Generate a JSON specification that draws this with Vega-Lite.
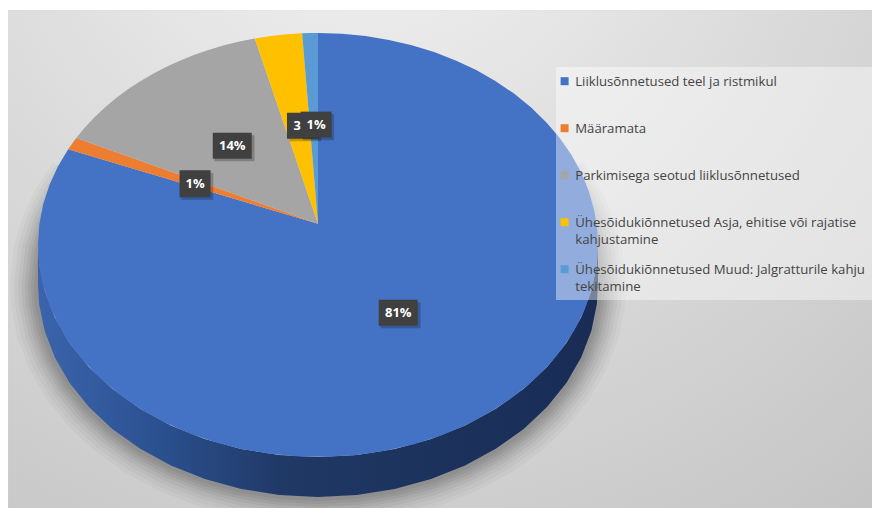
{
  "$schema": "https://vega.github.io/schema/vega-lite/v6.json",
  "width": 872,
  "height": 508,
  "padding": 0,
  "autosize": "none",
  "background": "white",
  "config": {"view": {"stroke": null}, "font": "Open Sans", "style": {"guide-label": {"lineHeight": 17}}},
  "datasets": {
    "slices": [
      {"label": "Liiklusõnnetused teel ja ristmikul", "share": 81,
       "along": [-1,0,1.5,3,4.5,6,7.5,9,10.5,12,13.5,15,16.5,18,19.5,21,22.5,24,25.5,27,28.5,30,31.5,33,34.5,36,37.5,39,40.5,42,43.5,45,46.5,48,49.5,51,52.5,54,55.5,57,58.5,60,61.5,63,64.5,66,67.5,69,70.5,72,73.5,75,76.5,78,79.5,81]},
      {"label": "Määramata", "share": 1, "along": [-1,0,0.5,1]},
      {"label": "Parkimisega seotud liiklusõnnetused", "share": 14,
       "along": [-1,0,1,2,3,4,5,6,7,8,9,10,11,12,13,14]},
      {"label": "Ühesõidukiõnnetused Asja, ehitise või rajatise kahjustamine", "share": 3, "along": [-1,0,1,2,3]},
      {"label": "Ühesõidukiõnnetused Muud: Jalgratturile kahju tekitamine", "share": 1, "along": [-1,0,0.5,1]}
    ],
    "rim": [
      {"pct": [18,20,22,24,26.6,28,30,32,34,36,38,40,42,44,46,48,50,52,54,56,58,60,62,64,66,68,70,72,73.4,76,78,80,82]}
    ]
  },
  "layer": [
    {
      "description": "panel background",
      "data": {"values": [{"panel": 1}]},
      "mark": {"type": "rect", "color": {"gradient": "radial", "x1": 0.42, "y1": 0.03, "r1": 0, "x2": 0.42, "y2": 0.03, "r2": 1.05,
        "stops": [{"offset": 0, "color": "#f4f4f4"}, {"offset": 0.45, "color": "#dcdcdc"}, {"offset": 1, "color": "#c0c0c0"}]}},
      "encoding": {
        "x": {"datum": -1.107, "type": "quantitative", "axis": null, "scale": {"domain": [-1, 1], "range": [38, 598], "nice": false, "zero": false}},
        "x2": {"datum": 1.98},
        "y": {"datum": 1.108, "type": "quantitative", "axis": null, "scale": {"domain": [-1, 1], "range": [457, 33], "nice": false, "zero": false}},
        "y2": {"datum": -1.241}
      }
    },
    {
      "description": "soft cast shadow under the pie edge",
      "data": {"name": "rim"},
      "transform": [
        {"flatten": ["pct"]},
        {"calculate": "2*PI*datum.pct/100", "as": "p"},
        {"calculate": "sin(datum.p)*sqrt(1-0.01)/(1+0.1*cos(datum.p))", "as": "x"},
        {"calculate": "(cos(datum.p)+0.1)/(1+0.1*cos(datum.p))-0.189", "as": "y"}
      ],
      "layer": [
        {"mark": {"type": "line", "stroke": "#333333", "strokeOpacity": 0.035, "strokeWidth": 56, "strokeJoin": "round"}},
        {"mark": {"type": "line", "stroke": "#333333", "strokeOpacity": 0.04, "strokeWidth": 48, "strokeJoin": "round"}},
        {"mark": {"type": "line", "stroke": "#333333", "strokeOpacity": 0.05, "strokeWidth": 40, "strokeJoin": "round"}},
        {"mark": {"type": "line", "stroke": "#333333", "strokeOpacity": 0.06, "strokeWidth": 33, "strokeJoin": "round"}},
        {"mark": {"type": "line", "stroke": "#333333", "strokeOpacity": 0.07, "strokeWidth": 26, "strokeJoin": "round"}},
        {"mark": {"type": "line", "stroke": "#333333", "strokeOpacity": 0.08, "strokeWidth": 20, "strokeJoin": "round"}},
        {"mark": {"type": "line", "stroke": "#333333", "strokeOpacity": 0.08, "strokeWidth": 14, "strokeJoin": "round"}},
        {"mark": {"type": "line", "stroke": "#333333", "strokeOpacity": 0.08, "strokeWidth": 8, "strokeJoin": "round"}}
      ],
      "encoding": {
        "x": {"field": "x", "type": "quantitative"},
        "y": {"field": "y", "type": "quantitative"},
        "order": {"field": "pct", "type": "quantitative"}
      }
    },
    {
      "description": "pie side wall",
      "data": {"name": "rim"},
      "transform": [
        {"flatten": ["pct"]},
        {"filter": "datum.pct>=26.6 && datum.pct<=73.4"},
        {"calculate": "2*PI*datum.pct/100", "as": "p"},
        {"calculate": "sin(datum.p)*sqrt(1-0.01)/(1+0.1*cos(datum.p))", "as": "x"},
        {"calculate": "(cos(datum.p)+0.1)/(1+0.1*cos(datum.p))", "as": "y"},
        {"calculate": "datum.y-0.189", "as": "yb"}
      ],
      "mark": {"type": "area", "color": {"gradient": "linear", "x1": 0, "y1": 0, "x2": 1, "y2": 0,
        "stops": [{"offset": 0, "color": "#3b64ad"}, {"offset": 0.2, "color": "#2c5292"}, {"offset": 0.45, "color": "#1f3864"}, {"offset": 1, "color": "#182c55"}]}},
      "encoding": {
        "x": {"field": "x", "type": "quantitative"},
        "y": {"field": "y", "type": "quantitative"},
        "y2": {"field": "yb"}
      }
    },
    {
      "description": "pie top face, one polygon for each slice",
      "data": {"name": "slices"},
      "transform": [
        {"stack": "share", "as": ["start", "end"]},
        {"flatten": ["along"]},
        {"calculate": "2*PI*(datum.start+datum.along)/100", "as": "p"},
        {"calculate": "datum.along<0 ? 0 : sin(datum.p)*sqrt(1-0.01)/(1+0.1*cos(datum.p))", "as": "x"},
        {"calculate": "datum.along<0 ? 0.1 : (cos(datum.p)+0.1)/(1+0.1*cos(datum.p))", "as": "y"}
      ],
      "mark": {"type": "line", "strokeWidth": 0, "fillOpacity": 1},
      "encoding": {
        "x": {"field": "x", "type": "quantitative"},
        "y": {"field": "y", "type": "quantitative"},
        "order": {"field": "along", "type": "quantitative"},
        "fill": {
          "field": "label",
          "type": "nominal",
          "scale": {
            "domain": ["Liiklusõnnetused teel ja ristmikul", "Määramata", "Parkimisega seotud liiklusõnnetused", "Ühesõidukiõnnetused Asja, ehitise või rajatise kahjustamine", "Ühesõidukiõnnetused Muud: Jalgratturile kahju tekitamine"],
            "range": ["#4472c4", "#ed7d31", "#a5a5a5", "#ffc000", "#5b9bd5"]
          },
          "legend": {
            "title": null,
            "orient": "none",
            "legendX": 558,
            "legendY": 79,
            "padding": 0,
            "gridAlign": "all",
            "rowPadding": 16,
            "symbolType": "M-1,-2.1 H1 V-0.1 H-1 Z",
            "symbolSize": 64,
            "symbolStrokeWidth": 0,
            "symbolOpacity": 1,
            "labelBaseline": "alphabetic",
            "labelFont": "Open Sans",
            "labelFontSize": 13.2,
            "labelColor": "#444444",
            "labelLimit": 320,
            "labelOffset": 4,
            "labelExpr": "split(replace(replace(datum.label,' kahjustamine','|kahjustamine'),' tekitamine','|tekitamine'),'|')"
          }
        }
      }
    },
    {
      "description": "translucent panel behind the legend",
      "data": {"values": [{"panel": 2}]},
      "mark": {"type": "rect", "color": "#ffffff", "opacity": 0.42},
      "encoding": {
        "x": {"datum": 0.85, "type": "quantitative"},
        "x2": {"datum": 1.98},
        "y": {"datum": 0.84, "type": "quantitative"},
        "y2": {"datum": -0.259}
      }
    },
    {
      "description": "value labels",
      "data": {"name": "slices"},
      "transform": [
        {"stack": "share", "as": ["start", "end"]},
        {"calculate": "2*PI*(datum.start+datum.share/2)/100", "as": "p"},
        {"calculate": "sin(datum.p)*sqrt(1-0.01)/(1+0.1*cos(datum.p))", "as": "ex"},
        {"calculate": "(cos(datum.p)+0.1)/(1+0.1*cos(datum.p))", "as": "ey"},
        {"calculate": "datum.share>50 ? 0.47 : (datum.start>=82 ? 0.52 : 0.5)", "as": "r"},
        {"calculate": "datum.r*datum.ex + (datum.share==3 ? 0.02 : (datum.start>=99 ? 0.008 : 0))", "as": "lx"},
        {"calculate": "0.1+datum.r*(datum.ey-0.1)", "as": "ly"},
        {"calculate": "datum.lx+0.008", "as": "sx"},
        {"calculate": "datum.ly-0.012", "as": "sy"},
        {"calculate": "datum.share+'%'", "as": "txt"}
      ],
      "layer": [
        {"transform": [{"filter": "datum.start<96 && datum.share!=1"}],
         "layer": [
          {"mark": {"type": "rect", "width": 40, "height": 26, "color": "#000000", "opacity": 0.22},
           "encoding": {"x": {"field": "sx", "type": "quantitative"}, "y": {"field": "sy", "type": "quantitative"}}},
          {"mark": {"type": "rect", "width": 39, "height": 26, "color": "#404040"},
           "encoding": {"x": {"field": "lx", "type": "quantitative"}, "y": {"field": "ly", "type": "quantitative"}}},
          {"mark": {"type": "text", "font": "Open Sans", "fontWeight": "bold", "fontSize": 13, "color": "#ffffff"},
           "encoding": {"x": {"field": "lx", "type": "quantitative"}, "y": {"field": "ly", "type": "quantitative"}, "text": {"field": "txt"}}}
         ]},
        {"transform": [{"filter": "datum.start<96 && datum.share==1"}],
         "layer": [
          {"mark": {"type": "rect", "width": 32, "height": 27, "color": "#000000", "opacity": 0.22},
           "encoding": {"x": {"field": "sx", "type": "quantitative"}, "y": {"field": "sy", "type": "quantitative"}}},
          {"mark": {"type": "rect", "width": 31, "height": 27, "color": "#404040"},
           "encoding": {"x": {"field": "lx", "type": "quantitative"}, "y": {"field": "ly", "type": "quantitative"}}},
          {"mark": {"type": "text", "font": "Open Sans", "fontWeight": "bold", "fontSize": 13, "color": "#ffffff"},
           "encoding": {"x": {"field": "lx", "type": "quantitative"}, "y": {"field": "ly", "type": "quantitative"}, "text": {"field": "txt"}}}
         ]},
        {"transform": [{"filter": "datum.share==3"}],
         "layer": [
          {"mark": {"type": "rect", "width": 32, "height": 26, "color": "#000000", "opacity": 0.22},
           "encoding": {"x": {"field": "sx", "type": "quantitative"}, "y": {"field": "sy", "type": "quantitative"}}},
          {"mark": {"type": "rect", "width": 32, "height": 26, "color": "#404040"},
           "encoding": {"x": {"field": "lx", "type": "quantitative"}, "y": {"field": "ly", "type": "quantitative"}}},
          {"mark": {"type": "text", "font": "Open Sans", "fontWeight": "bold", "fontSize": 13, "color": "#ffffff"},
           "encoding": {"x": {"field": "lx", "type": "quantitative"}, "y": {"field": "ly", "type": "quantitative"}, "text": {"field": "txt"}}}
         ]},
        {"transform": [{"filter": "datum.start>=99"}],
         "layer": [
          {"mark": {"type": "rect", "width": 31, "height": 26, "color": "#000000", "opacity": 0.22},
           "encoding": {"x": {"field": "sx", "type": "quantitative"}, "y": {"field": "sy", "type": "quantitative"}}},
          {"mark": {"type": "rect", "width": 31, "height": 26, "color": "#404040"},
           "encoding": {"x": {"field": "lx", "type": "quantitative"}, "y": {"field": "ly", "type": "quantitative"}}},
          {"mark": {"type": "text", "font": "Open Sans", "fontWeight": "bold", "fontSize": 13, "color": "#ffffff"},
           "encoding": {"x": {"field": "lx", "type": "quantitative"}, "y": {"field": "ly", "type": "quantitative"}, "text": {"field": "txt"}}}
         ]}
      ]
    }
  ]
}
